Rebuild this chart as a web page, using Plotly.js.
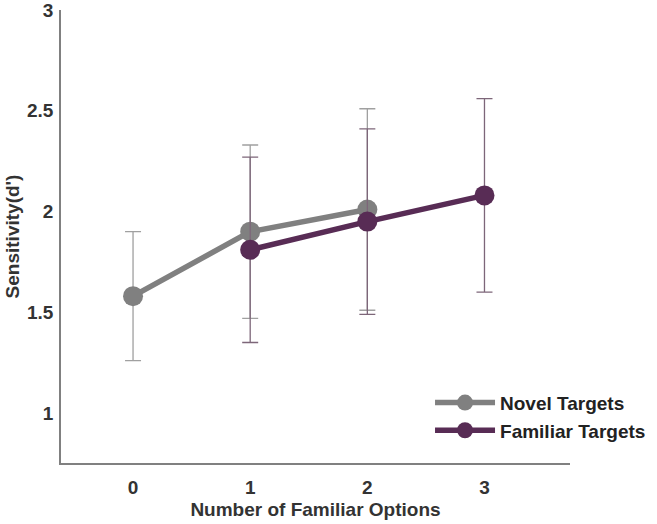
<!DOCTYPE html>
<html><head><meta charset="utf-8">
<script src="https://cdn.plot.ly/plotly-3.0.1.min.js"></script>
<style>body{margin:0;background:#fff}#chart{width:657px;height:524px}</style>
</head><body><div id="chart"></div>
<script>
const novelX = [0, 1, 2];
const novelY = [1.58, 1.90, 2.01];
const novelErr = [0.32, 0.43, 0.50];
const familiarX = [1, 2, 3];
const familiarY = [1.81, 1.95, 2.08];
const familiarErr = [0.46, 0.46, 0.48];
const xTicks = [0, 1, 2, 3];
const yTicks = [1, 1.5, 2, 2.5, 3];

const fam = 'Liberation Sans, Arial, sans-serif';
const traces = [
  {x: novelX, y: novelY, name: 'Novel Targets', type: 'scatter', mode: 'lines+markers',
   line: {color: '#808080', width: 5.5}, marker: {color: '#808080', size: 20},
   error_y: {type: 'data', array: novelErr, visible: true, color: '#a0a0a0', thickness: 1.3, width: 8}},
  {x: familiarX, y: familiarY, name: 'Familiar Targets', type: 'scatter', mode: 'lines+markers',
   line: {color: '#582c55', width: 5.5}, marker: {color: '#582c55', size: 20},
   error_y: {type: 'data', array: familiarErr, visible: true, color: '#7d6679', thickness: 1.3, width: 8}}
];
const layout = {
  width: 657, height: 524,
  margin: {l: 61, r: 87, t: 10, b: 61, autoexpand: false},
  paper_bgcolor: '#fff', plot_bgcolor: '#fff',
  showlegend: true,
  legend: {x: 0.725, y: 0.175, xanchor: 'left', yanchor: 'top', bgcolor: 'rgba(0,0,0,0)',
    font: {family: fam, color: '#222', size: 19, weight: 'bold'}, itemwidth: 60, tracegroupgap: 0},
  xaxis: {range: [-0.615, 3.73], tickvals: xTicks, ticktext: xTicks.map(String),
    showgrid: false, zeroline: false, showline: true, linecolor: '#808080', linewidth: 1.5,
    ticks: '', ticklabelstandoff: 6, ticklabeloverflow: 'allow',
    tickfont: {family: fam, color: '#333', size: 19, weight: 'bold'},
    title: {text: 'Number of Familiar Options', standoff: 6,
      font: {family: fam, color: '#333', size: 19, weight: 'bold'}}},
  yaxis: {range: [0.752, 3], tickvals: yTicks, ticktext: yTicks.map(String),
    showgrid: false, zeroline: false, showline: true, linecolor: '#808080', linewidth: 1.5,
    ticks: '', ticklabelstandoff: 2, ticklabeloverflow: 'allow',
    tickfont: {family: fam, color: '#333', size: 19, weight: 'bold'},
    title: {text: "Sensitivity(d')", standoff: 2,
      font: {family: fam, color: '#333', size: 19, weight: 'bold'}}}
};
Plotly.newPlot('chart', traces, layout, {displayModeBar: false});
</script></body></html>
